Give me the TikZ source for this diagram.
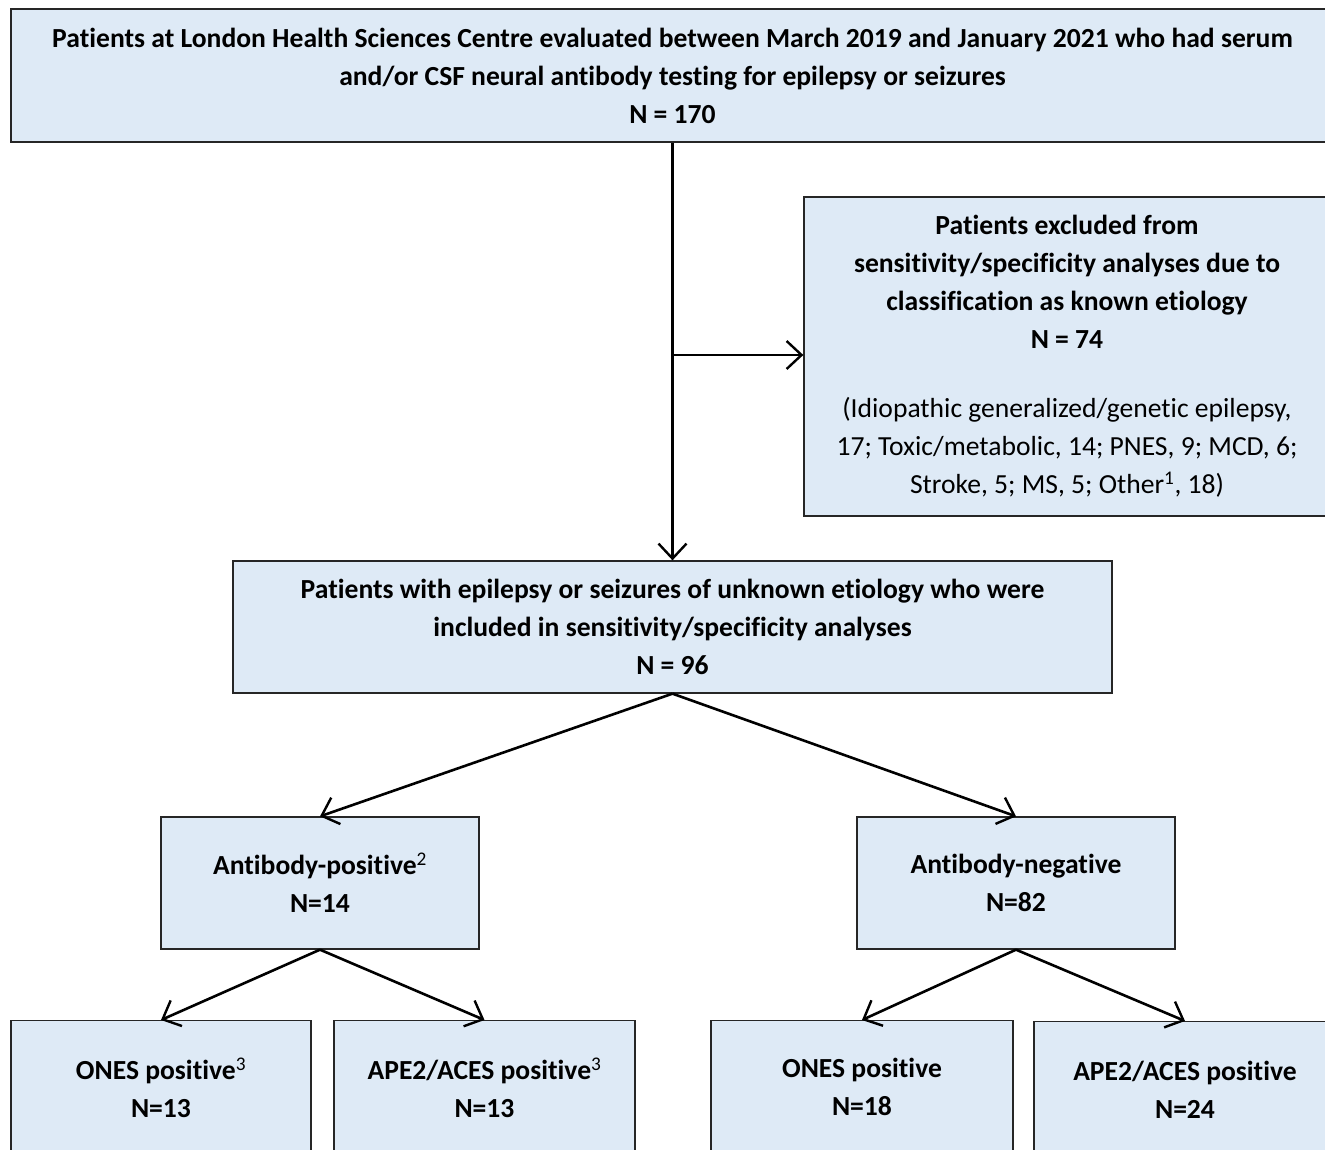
\documentclass[tikz,border=0pt]{standalone}
\usepackage{fontspec}
\setmainfont{Carlito}[Ligatures=NoCommon]
\usetikzlibrary{arrows.meta}
\definecolor{boxblue}{RGB}{222,234,246}
\begin{document}
\begin{tikzpicture}[x=1pt,y=-1pt,
  box/.style={draw=black!85, line width=1.3pt, fill=boxblue, align=center, inner sep=0pt,
              font=\fontsize{27.6}{38}\selectfont\bfseries},
  txt/.style={align=center, inner sep=0pt, font=\fontsize{27.6}{38}\selectfont\bfseries},
  conn/.style={line width=2.6pt, -{Straight Barb[length=15pt,width=28pt,line width=2.4pt]}}]
\useasboundingbox (0,0) rectangle (1325,1149);

\node[box, minimum width=1323pt, minimum height=133pt] (top) at (672.5,75.5)
  {Patients at London Health Sciences Centre evaluated between March 2019 and January 2021 who had serum\\
   and/or CSF neural antibody testing for epilepsy or seizures\\ N = 170};

\node[box, minimum width=526pt, minimum height=319pt] (excl) at (1067,356.5)
  {Patients excluded from\\ sensitivity/specificity analyses due to\\ classification as known etiology\\ N = 74\\[31pt]
   \mdseries (Idiopathic generalized/genetic epilepsy,\\ \mdseries 17; Toxic/metabolic, 14; PNES, 9; MCD, 6;\\
   \mdseries Stroke, 5; MS, 5; Other\textsuperscript{1}, 18)};

\node[box, minimum width=879pt, minimum height=132pt] (mid) at (672.5,627)
  {Patients with epilepsy or seizures of unknown etiology who were\\ included in sensitivity/specificity analyses\\ N = 96};

\node[box, minimum width=318pt, minimum height=132pt] (abpos) at (320,883)
  {Antibody-positive\textsuperscript{\mdseries 2}\\ N=14};
\node[box, minimum width=318pt, minimum height=132pt] (abneg) at (1016,883)
  {Antibody-negative\\ N=82};

\node[box, minimum width=300pt, minimum height=160pt, anchor=north] (b1) at (161,1020) {};
\node[box, minimum width=301pt, minimum height=160pt, anchor=north] (b2) at (484.5,1020) {};
\node[box, minimum width=302pt, minimum height=160pt, anchor=north] (b3) at (862,1020) {};
\node[box, minimum width=302pt, minimum height=160pt, anchor=north] (b4) at (1185,1021) {};

\node[txt] (t1) at (161,1088) {ONES positive\textsuperscript{\mdseries 3}\\ N=13};
\node[txt] (t2) at (484.5,1088) {APE2/ACES positive\textsuperscript{\mdseries 3}\\ N=13};
\node[txt] (t3) at (862,1087) {ONES positive\\ N=18};
\node[txt] (t4) at (1185,1090) {APE2/ACES positive\\ N=24};

\coordinate (br) at (672.5,355);
\draw[conn] (top.south) -- (mid.north);
\draw[conn] (br) -- (excl.west |- br);
\draw[conn] (mid.south) -- (abpos.north);
\draw[conn] (mid.south) -- (abneg.north);
\draw[conn] (abpos.south) -- (b1.north);
\draw[conn] (abpos.south) -- (b2.north);
\draw[conn] (abneg.south) -- (b3.north);
\draw[conn] (abneg.south) -- (b4.north);
\end{tikzpicture}
\end{document}
